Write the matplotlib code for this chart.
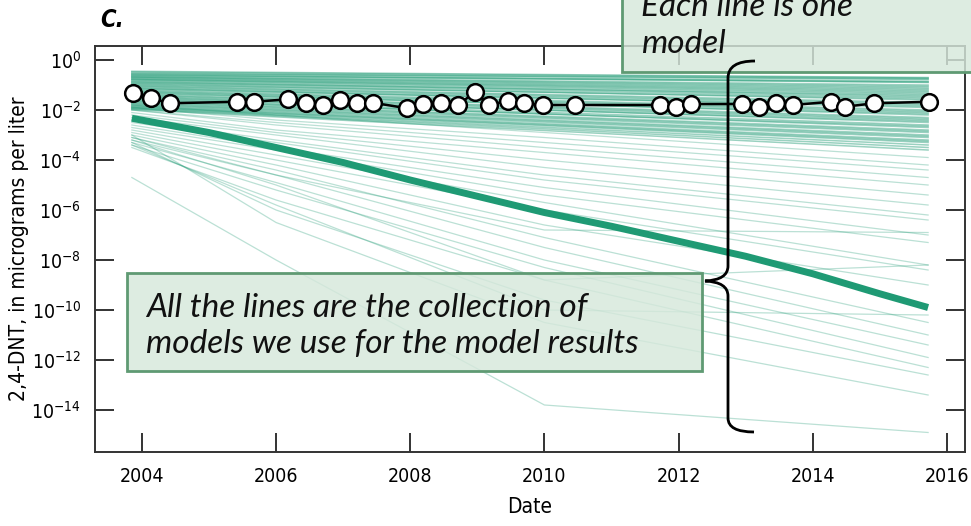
import numpy as np
import matplotlib.pyplot as plt
from matplotlib.patches import Rectangle, PathPatch
from matplotlib.path import Path
from matplotlib.ticker import FixedLocator, LogFormatterMathtext

plt.rcParams['font.family'] = ['DejaVu Sans']
plt.rcParams['font.stretch'] = 'condensed'
plt.rcParams['mathtext.fontset'] = 'custom'
plt.rcParams['mathtext.rm'] = 'DejaVu Sans:stretch=condensed'

# observed 2,4-DNT samples (log10 of micrograms per liter)
obs_year = [2003.87, 2004.14, 2004.42, 2005.41, 2005.67, 2006.18, 2006.45, 2006.70,
            2006.95, 2007.20, 2007.45, 2007.95, 2008.19, 2008.46, 2008.71, 2008.97,
            2009.17, 2009.45, 2009.70, 2009.98, 2010.46, 2011.72, 2011.96, 2012.19,
            2012.95, 2013.20, 2013.45, 2013.70, 2014.27, 2014.48, 2014.91, 2015.74]
obs_log10 = [-1.33, -1.53, -1.73, -1.67, -1.67, -1.57, -1.73, -1.80,
             -1.60, -1.73, -1.71, -1.93, -1.76, -1.71, -1.80, -1.27,
             -1.80, -1.63, -1.73, -1.80, -1.80, -1.80, -1.87, -1.76,
             -1.76, -1.87, -1.71, -1.80, -1.67, -1.87, -1.73, -1.67]

# highlighted model run
best_year = [2003.85, 2005, 2006, 2007, 2008, 2009, 2010, 2011, 2012, 2013, 2014, 2015, 2015.72]
best_log10 = [-2.33, -2.9, -3.5, -4.1, -4.8, -5.45, -6.1, -6.65, -7.25, -7.85, -8.55, -9.35, -9.9]

# upper band of model runs: value at first and last date
band_year = [2003.85, 2015.72]
band_start = [-0.45, -0.48, -0.52, -0.55, -0.58, -0.60, -0.63, -0.66, -0.68, -0.70,
              -0.73, -0.76, -0.78, -0.80, -0.84, -0.87, -0.90, -0.93, -0.96, -1.00,
              -1.03, -1.06, -1.10, -1.13, -1.16, -1.20, -1.24, -1.27, -1.30, -1.34,
              -1.38, -1.41, -1.45, -1.48, -1.52, -1.55, -1.58, -1.62, -1.65, -1.68,
              -1.72, -1.75, -1.78, -1.82, -1.85, -1.88, -1.90, -1.93, -1.95, -1.98]
band_end = [-0.70, -0.72, -0.78, -0.75, -0.85, -0.90, -0.88, -1.00, -1.05, -1.10,
            -1.15, -1.20, -1.25, -1.30, -1.35, -1.45, -1.40, -1.50, -1.60, -1.55,
            -1.70, -1.75, -1.80, -1.90, -1.85, -2.00, -2.05, -2.10, -2.20, -2.15,
            -2.30, -2.35, -2.40, -2.50, -2.45, -2.60, -2.70, -2.65, -2.80, -2.85,
            -2.90, -3.00, -3.05, -3.10, -3.20, -3.25, -3.30, -3.40, -3.50, -3.60]

# lower model runs, values at four dates
low_year = [2003.85, 2006.0, 2010.0, 2015.72]
low_2004 = [-1.8, -1.9, -2.0, -2.0, -2.1, -2.2, -2.3, -2.4, -2.5, -2.6, -2.7, -2.8, -2.9,
            -3.0, -3.1, -3.2, -3.3, -3.4, -3.5, -3.3, -3.0, -4.7, -3.2, -3.4, -3.1]
low_2006 = [-2.2, -2.4, -2.5, -2.6, -2.8, -2.9, -3.0, -3.2, -3.3, -3.5, -3.6, -3.8, -4.0,
            -4.2, -4.4, -4.6, -4.9, -5.2, -5.6, -6.0, -6.5, -8.0, -5.0, -5.8, -4.6]
low_2010 = [-2.9, -3.1, -3.3, -3.5, -3.7, -4.0, -4.3, -4.6, -4.8, -5.1, -5.4, -5.7, -6.0,
            -6.6, -7.1, -7.5, -8.0, -8.3, -8.8, -9.6, -10.5, -13.8, -8.8, -10.0, -6.8]
low_2016 = [-3.9, -4.2, -4.4, -4.7, -5.0, -5.4, -5.8, -6.2, -6.4, -7.0, -7.3, -8.2, -8.4,
            -9.0, -10.5, -11.0, -11.4, -11.9, -12.3, -12.6, -13.4, -14.9, -8.2, -10.2, -6.9]

green = '#1f9a74'

fig = plt.figure(figsize=(9.71, 5.26), dpi=100)
ax = fig.add_axes([0.0978, 0.1407, 0.8960, 0.7718])

for s, e in zip(band_start, band_end):
    ax.plot(band_year, [10.0 ** s, 10.0 ** e], color=green, alpha=0.45, lw=1.1, zorder=1)

for row in zip(low_2004, low_2006, low_2010, low_2016):
    ax.plot(low_year, [10.0 ** v for v in row], color=green, alpha=0.3, lw=0.9, zorder=1)

ax.plot(best_year, 10.0 ** np.array(best_log10), color=green, lw=5, zorder=2,
        solid_capstyle='butt')

ax.plot(obs_year, 10.0 ** np.array(obs_log10), color='black', lw=1.8, marker='o',
        ms=12, mfc='white', mec='black', mew=1.8, zorder=3)

ax.set_yscale('log')
ax.set_xlim(2003.3, 2016.27)
ax.set_ylim(10 ** -15.68, 10 ** 0.56)
ax.yaxis.set_major_locator(FixedLocator([10.0 ** k for k in range(0, -15, -2)]))
ax.yaxis.set_major_formatter(LogFormatterMathtext())
ax.yaxis.set_minor_locator(FixedLocator([]))
ax.set_xticks([2004, 2006, 2008, 2010, 2012, 2014, 2016])

for sp in ax.spines.values():
    sp.set_color('#333333')
    sp.set_linewidth(1.4)
ax.tick_params(which='major', direction='in', length=14, width=1.4, color='#333333',
               top=True, right=True, labelsize=14, pad=10)
ax.tick_params(axis='x', pad=11)

ax.set_xlabel('Date', fontsize=15, labelpad=8)
ax.set_ylabel('2,4-DNT, in micrograms per liter', fontsize=15, labelpad=2)

fig.text(0.103, 0.962, 'C.', fontsize=17, fontweight='bold', fontstyle='italic',
         va='center', ha='left')

W, H = 971.0, 526.0


def fxy(x, y):
    return (x / W, 1 - y / H)


box_fc = (0.84, 0.91, 0.86, 0.82)
box_ec = '#5f9a73'

# callout boxes
x0, y0 = fxy(127, 371)
fig.add_artist(Rectangle((x0, y0), (702 - 127) / W, (371 - 273) / H, transform=fig.transFigure,
                         fc=box_fc, ec=box_ec, lw=2, zorder=5))
note_font = dict(family=['Lato', 'DejaVu Sans'], style='italic', stretch='normal',
                 weight='normal', fontsize=24, color='#111111', zorder=6)
fig.text(*fxy(146, 317), 'All the lines are the collection of', va='baseline', **note_font)
fig.text(*fxy(146, 353), 'models we use for the model results', va='baseline', **note_font)

x0, y0 = fxy(622, 72)
fig.add_artist(Rectangle((x0, y0), (990 - 622) / W, 100 / H, transform=fig.transFigure,
                         fc=box_fc, ec=box_ec, lw=2, zorder=5))
fig.text(*fxy(641, 16), 'Each line is one', va='baseline', **note_font)
fig.text(*fxy(641, 53), 'model', va='baseline', **note_font)

# curly brace joining the two callouts
pts = [(755, 61), (728, 61), (728, 78),
       (728, 266), (728, 280), (705, 281),
       (728, 282), (728, 296),
       (728, 418), (728, 432), (754, 432)]
pts = [fxy(x, y) for x, y in pts]
codes = [Path.MOVETO, Path.CURVE3, Path.CURVE3,
         Path.LINETO, Path.CURVE3, Path.CURVE3,
         Path.CURVE3, Path.CURVE3,
         Path.LINETO, Path.CURVE3, Path.CURVE3]
fig.add_artist(PathPatch(Path(pts, codes), transform=fig.transFigure, fc='none',
                         ec='black', lw=2, zorder=7))

fig.savefig('out.png', dpi=100)
